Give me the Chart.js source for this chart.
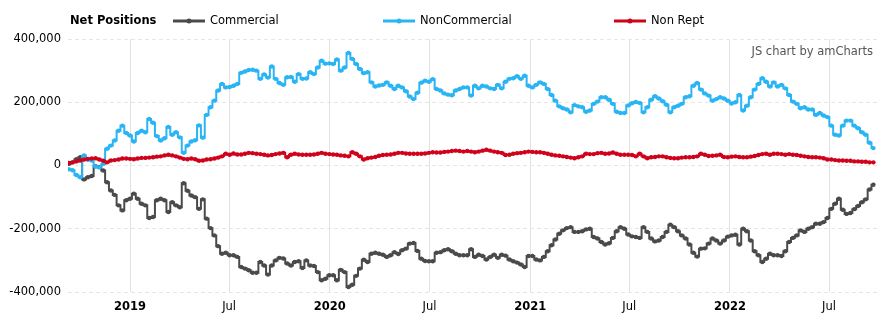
<!DOCTYPE html>
<html>
<head>
<meta charset="utf-8">
<script src="https://cdn.jsdelivr.net/npm/chart.js@4.4.1/dist/chart.umd.min.js"></script>
<style>
  html, body { margin: 0; padding: 0; background: #ffffff; }
  #wrap { width: 886px; height: 326px; position: relative; }
</style>
</head>
<body>
<div id="wrap"><canvas id="c" width="886" height="326"></canvas></div>
<script>
// ---- data (net positions, thousands of contracts, weekly from startDate) ----
const startDate = '2018-09-11';
const commercial = [
  5, 10, 20, 26, -44, -37, -33, -2, -5, -16,
  -53, -79, -93, -126, -142, -110, -105, -89, -105, -121,
  -126, -166, -163, -110, -105, -110, -147, -116, -126, -132,
  -56, -80, -95, -100, -137, -107, -168, -198, -221, -255,
  -279, -276, -284, -284, -289, -321, -326, -331, -339, -339,
  -305, -316, -345, -316, -300, -292, -294, -310, -316, -305,
  -303, -324, -300, -316, -318, -337, -363, -358, -347, -347,
  -363, -330, -337, -384, -377, -349, -326, -298, -305, -279,
  -276, -279, -282, -289, -284, -274, -280, -268, -263, -247,
  -245, -270, -295, -302, -303, -303, -276, -274, -268, -265,
  -271, -279, -284, -284, -284, -265, -289, -282, -286, -297,
  -289, -282, -292, -282, -285, -297, -303, -307, -313, -321,
  -286, -286, -297, -300, -289, -271, -252, -234, -216, -205,
  -198, -195, -210, -210, -208, -202, -200, -226, -231, -242,
  -250, -246, -229, -208, -195, -200, -218, -224, -226, -229,
  -195, -210, -231, -240, -237, -226, -210, -187, -195, -208,
  -221, -231, -250, -276, -288, -263, -262, -247, -231, -237,
  -247, -237, -225, -221, -219, -250, -200, -208, -237, -271,
  -284, -305, -295, -279, -284, -284, -286, -271, -242, -229,
  -221, -205, -210, -200, -195, -184, -184, -179, -166, -137,
  -121, -105, -140, -153, -150, -138, -128, -116, -107, -76,
  -61
];
const nonCommercial = [
  -12, -15, -30, -37, 32, 18, 16, -3, -6, 5,
  53, 63, 79, 110, 126, 103, 95, 76, 103, 110,
  105, 147, 135, 93, 79, 86, 122, 97, 105, 89,
  40, 63, 76, 80, 127, 88, 160, 184, 205, 237,
  258, 247, 248, 252, 258, 293, 297, 302, 303, 300,
  274, 288, 278, 313, 274, 261, 255, 279, 280, 265,
  289, 274, 275, 295, 289, 310, 331, 322, 323, 321,
  335, 300, 310, 356, 337, 321, 305, 292, 295, 263,
  250, 253, 255, 263, 252, 242, 252, 247, 235, 218,
  210, 230, 262, 268, 265, 273, 242, 237, 228, 224,
  222, 237, 242, 247, 247, 221, 252, 244, 252, 250,
  244, 242, 255, 244, 265, 274, 276, 282, 274, 284,
  252, 247, 255, 263, 258, 242, 223, 205, 187, 181,
  177, 168, 191, 187, 184, 170, 174, 195, 202, 216,
  216, 208, 195, 170, 166, 166, 190, 197, 201, 198,
  168, 184, 208, 219, 212, 203, 192, 168, 184, 189,
  195, 216, 219, 252, 261, 240, 228, 221, 205, 210,
  216, 212, 205, 196, 200, 223, 174, 189, 216, 240,
  258, 276, 265, 250, 263, 250, 255, 244, 223, 202,
  195, 181, 184, 177, 177, 160, 166, 158, 153, 126,
  97, 95, 126, 142, 142, 126, 118, 105, 97, 72,
  55
];
const nonReportable = [
  8, 10, 13, 16, 19, 21, 22, 23, 19, 15,
  10, 16, 17, 19, 22, 22, 21, 20, 22, 24,
  24, 25, 26, 28, 29, 32, 34, 32, 29, 25,
  21, 20, 22, 20, 15, 16, 19, 20, 22, 25,
  29, 37, 34, 38, 35, 35, 37, 40, 39, 37,
  36, 34, 32, 33, 36, 38, 40, 26, 34, 37,
  35, 34, 34, 34, 35, 37, 40, 37, 36, 35,
  34, 32, 31, 29, 42, 37, 29, 19, 23, 25,
  27, 31, 33, 34, 35, 37, 40, 40, 38, 37,
  37, 37, 37, 38, 40, 42, 41, 41, 43, 44,
  46, 47, 46, 44, 46, 44, 42, 44, 47, 50,
  47, 44, 42, 40, 33, 34, 37, 39, 40, 42,
  44, 43, 42, 42, 40, 37, 34, 32, 31, 29,
  27, 25, 23, 26, 29, 37, 36, 36, 39, 40,
  37, 38, 41, 37, 34, 34, 34, 33, 29, 37,
  29, 23, 26, 27, 29, 29, 26, 24, 23, 23,
  25, 26, 26, 27, 29, 37, 34, 30, 31, 32,
  34, 27, 26, 28, 29, 27, 26, 26, 28, 30,
  33, 36, 37, 34, 37, 37, 36, 34, 36, 34,
  33, 31, 29, 27, 26, 26, 25, 23, 19, 19,
  17, 16, 16, 15, 15, 13, 13, 12, 12, 10,
  10
];
const seriesNames = ['Commercial', 'NonCommercial', 'Non Rept'];
const legendTitle = 'Net Positions';
const tickDates = ['2019-01-01', '2019-07-01', '2020-01-01', '2020-07-01', '2021-01-01', '2021-07-01', '2022-01-01', '2022-07-01'];
const tickLabels = ['2019', 'Jul', '2020', 'Jul', '2021', 'Jul', '2022', 'Jul'];
const yTickValues = [-400000, -200000, 0, 200000, 400000];
const creditText = 'JS chart by amCharts';

// ---- helpers ----
const DAY = 86400000;
const ORIGIN = Date.UTC(2019, 0, 1);
function dayOf(s) { const p = s.split('-').map(Number); return (Date.UTC(p[0], p[1] - 1, p[2]) - ORIGIN) / DAY; }
const startDay = dayOf(startDate);
const tickDays = tickDates.map(dayOf);
const toPoints = arr => arr.map((v, i) => ({ x: startDay + 7 * i, y: v * 1000 }));

const colors = ['#4a4a4a', '#29b4f4', '#d0021b'];
const FONT = '"DejaVu Sans", Verdana, sans-serif';
Chart.defaults.font.family = FONT;
Chart.defaults.font.size = 11.5;
Chart.defaults.color = '#000';

const overlay = {
  id: 'overlay',
  afterDraw(chart) {
    const c = chart.ctx;
    c.save();
    c.textBaseline = 'middle';
    c.textAlign = 'left';
    c.fillStyle = '#000';
    c.font = 'bold 11.5px ' + FONT;
    c.fillText(legendTitle, 70, 21);
    const legendX = [173, 383, 614];
    c.font = '11.5px ' + FONT;
    seriesNames.forEach((name, k) => {
      const x0 = legendX[k];
      c.strokeStyle = colors[k];
      c.lineWidth = 3;
      c.beginPath(); c.moveTo(x0, 21); c.lineTo(x0 + 32, 21); c.stroke();
      c.fillStyle = colors[k];
      c.beginPath(); c.arc(x0 + 16, 21, 2.5, 0, Math.PI * 2); c.fill();
      c.fillStyle = '#000';
      c.fillText(name, x0 + 37, 21);
    });
    c.textAlign = 'right';
    c.fillStyle = '#555';
    c.fillText(creditText, 873, 52);
    c.restore();
  }
};

const datasets = [commercial, nonCommercial, nonReportable].map((arr, k) => ({
  label: seriesNames[k],
  data: toPoints(arr),
  borderColor: colors[k],
  backgroundColor: colors[k],
  pointBackgroundColor: colors[k],
  order: 2 - k
}));

new Chart(document.getElementById('c'), {
  type: 'line',
  data: { datasets },
  plugins: [overlay],
  options: {
    responsive: false,
    animation: false,
    events: [],
    layout: { padding: { left: 0, right: 8, top: 39, bottom: 0 } },
    elements: {
      line: { borderWidth: 2, stepped: 'middle', tension: 0, fill: false },
      point: { radius: 2.2, borderWidth: 0, hoverRadius: 2.2 }
    },
    plugins: { legend: { display: false }, tooltip: { enabled: false } },
    scales: {
      x: {
        type: 'linear',
        min: -113.3,
        max: 1366.4,
        bounds: 'data',
        afterBuildTicks: s => { s.ticks = tickDays.map(v => ({ value: v })); },
        afterFit: s => { s.height = 34; },
        grid: { color: '#e2e2e2', lineWidth: 1, drawTicks: false },
        border: { display: false },
        ticks: {
          padding: 8,
          maxRotation: 0,
          autoSkip: false,
          color: '#000',
          font: ctx => ({ family: FONT, size: 11.5, weight: /^\d{4}$/.test(tickLabels[ctx.index] || '') ? 'bold' : 'normal' }),
          callback: (v, i) => tickLabels[i]
        }
      },
      y: {
        min: -400000,
        max: 400000,
        afterBuildTicks: s => { s.ticks = yTickValues.map(v => ({ value: v })); },
        afterFit: s => { s.width = 68; },
        grid: { color: '#e6e6e6', lineWidth: 1, drawTicks: false },
        border: { display: false, dash: [4, 3] },
        ticks: {
          padding: 7,
          color: '#000',
          font: { family: FONT, size: 11.5 },
          callback: v => v.toLocaleString('en-US')
        }
      }
    }
  }
});
</script>
</body>
</html>
